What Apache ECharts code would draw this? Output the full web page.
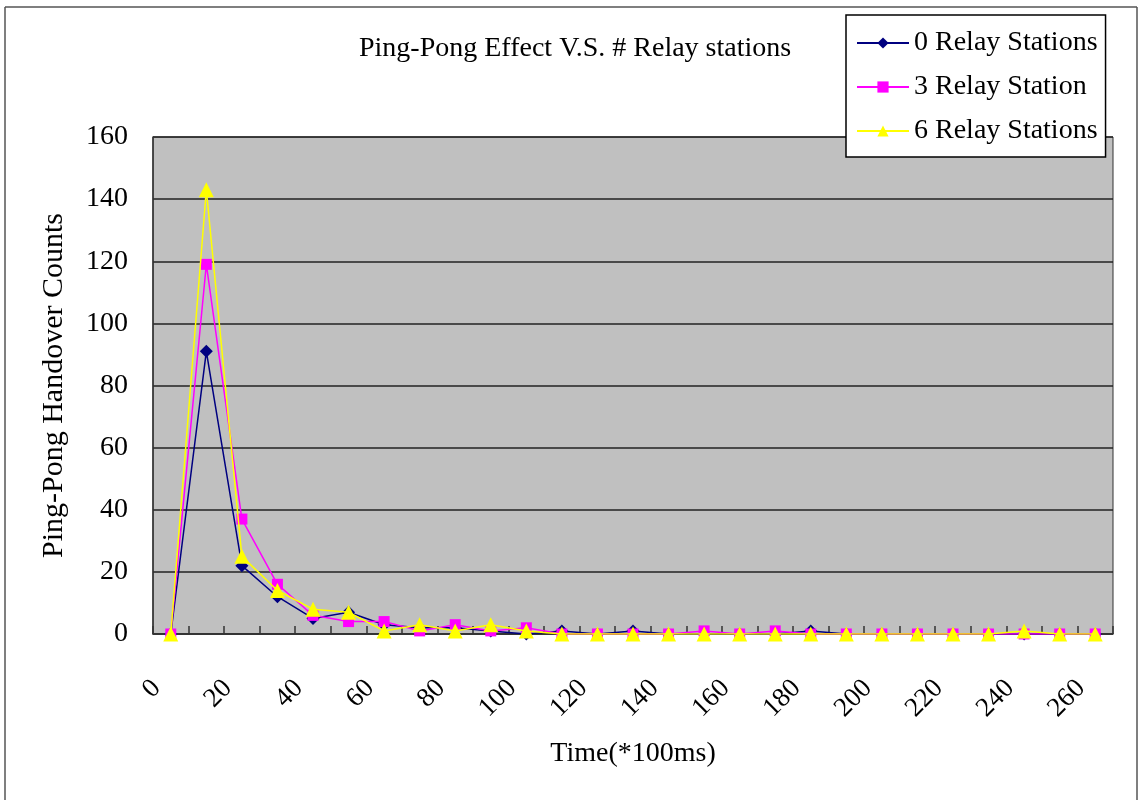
<!DOCTYPE html>
<html>
<head>
<meta charset="utf-8">
<script src="https://cdn.jsdelivr.net/npm/echarts@6/dist/echarts.min.js"></script>
<style>
html,body{margin:0;padding:0;background:#fff;}
#chart{width:1142px;height:800px;}
</style>
</head>
<body>
<div id="chart"></div>
<script>
const categories = ['0','10','20','30','40','50','60','70','80','90','100','110','120','130','140','150','160','170','180','190','200','210','220','230','240','250','260'];
const relay0 = [0, 91, 22, 12, 5, 7, 3, 2, 2, 1, 0, 1, 0, 1, 0, 0, 0, 0, 1, 0, 0, 0, 0, 0, 0, 0, 0];
const relay3 = [0, 119, 37, 16, 6, 4, 4, 1, 3, 1, 2, 0, 0, 0, 0, 1, 0, 1, 0, 0, 0, 0, 0, 0, 0, 0, 0];
const relay6 = [0, 143, 25, 14, 8, 7, 1, 3, 1, 3, 1, 0, 0, 0, 0, 0, 0, 0, 0, 0, 0, 0, 0, 0, 1, 0, 0];
const seriesNames = ['0 Relay Stations', '3 Relay Station', '6 Relay Stations'];
const titleText = 'Ping-Pong Effect V.S. # Relay stations';
const xName = 'Time(*100ms)';
const yName = 'Ping-Pong Handover Counts';

const FONT = '"Liberation Serif", "DejaVu Serif", serif';
const chart = echarts.init(document.getElementById('chart'), null, {renderer: 'canvas'});
chart.setOption({
  animation: false,
  backgroundColor: '#fff',
  textStyle: {fontFamily: FONT, color: '#000'},
  graphic: [
    {type: 'line', shape: {x1: 5, y1: 7, x2: 1137, y2: 7}, style: {stroke: '#555', lineWidth: 1.5}, z: 0},
    {type: 'line', shape: {x1: 5, y1: 7, x2: 5, y2: 800}, style: {stroke: '#555', lineWidth: 1.5}, z: 0},
    {type: 'line', shape: {x1: 1137, y1: 7, x2: 1137, y2: 800}, style: {stroke: '#555', lineWidth: 1.5}, z: 0}
  ],
  title: {
    text: titleText,
    left: 354, top: 30,
    textStyle: {fontFamily: FONT, fontWeight: 'normal', fontSize: 28, color: '#000'}
  },
  legend: {
    orient: 'vertical',
    left: 846, top: 15,
    padding: [14, 8, 12, 10],
    itemGap: 16,
    itemWidth: 52, itemHeight: 14,
    backgroundColor: '#fff',
    borderColor: '#000', borderWidth: 1.5,
    textStyle: {fontFamily: FONT, fontSize: 28, color: '#000'},
    data: seriesNames
  },
  grid: {left: 153, top: 137, right: 29, bottom: 166, show: true, backgroundColor: '#C0C0C0', borderColor: '#333', borderWidth: 1},
  xAxis: {
    type: 'category',
    data: categories,
    boundaryGap: true,
    name: xName,
    nameLocation: 'middle',
    nameGap: 106,
    nameTextStyle: {fontFamily: FONT, fontSize: 28, color: '#000'},
    axisLine: {show: true, lineStyle: {color: '#333', width: 1.5}},
    axisTick: {show: true, inside: true, interval: 0, length: 8, lineStyle: {color: '#333', width: 1.5}},
    axisLabel: {interval: 1, rotate: 45, margin: 36, padding: [0, 20, 0, 0], fontFamily: FONT, fontSize: 27, color: '#000'},
    splitLine: {show: false}
  },
  yAxis: {
    type: 'value',
    min: 0, max: 160, interval: 20,
    name: yName,
    nameLocation: 'middle',
    nameGap: 84,
    nameTextStyle: {fontFamily: FONT, fontSize: 30, color: '#000'},
    axisLine: {show: true, lineStyle: {color: '#333', width: 1.5}},
    axisTick: {show: false},
    axisLabel: {margin: 25, fontFamily: FONT, fontSize: 28, color: '#000'},
    splitLine: {show: true, lineStyle: {color: '#222', width: 1.5}}
  },
  series: [
    {name: seriesNames[0], type: 'line', data: relay0, symbol: 'diamond', symbolSize: 13,
     itemStyle: {color: '#000080'}, lineStyle: {color: '#000080', width: 1.5}, z: 3},
    {name: seriesNames[1], type: 'line', data: relay3, symbol: 'rect', symbolSize: 11,
     itemStyle: {color: '#FF00FF'}, lineStyle: {color: '#FF00FF', width: 1.5}, z: 4},
    {name: seriesNames[2], type: 'line', data: relay6, symbol: 'triangle', symbolSize: 15,
     itemStyle: {color: '#FFFF00'}, lineStyle: {color: '#FFFF00', width: 1.5}, z: 5}
  ]
});
</script>
</body>
</html>
